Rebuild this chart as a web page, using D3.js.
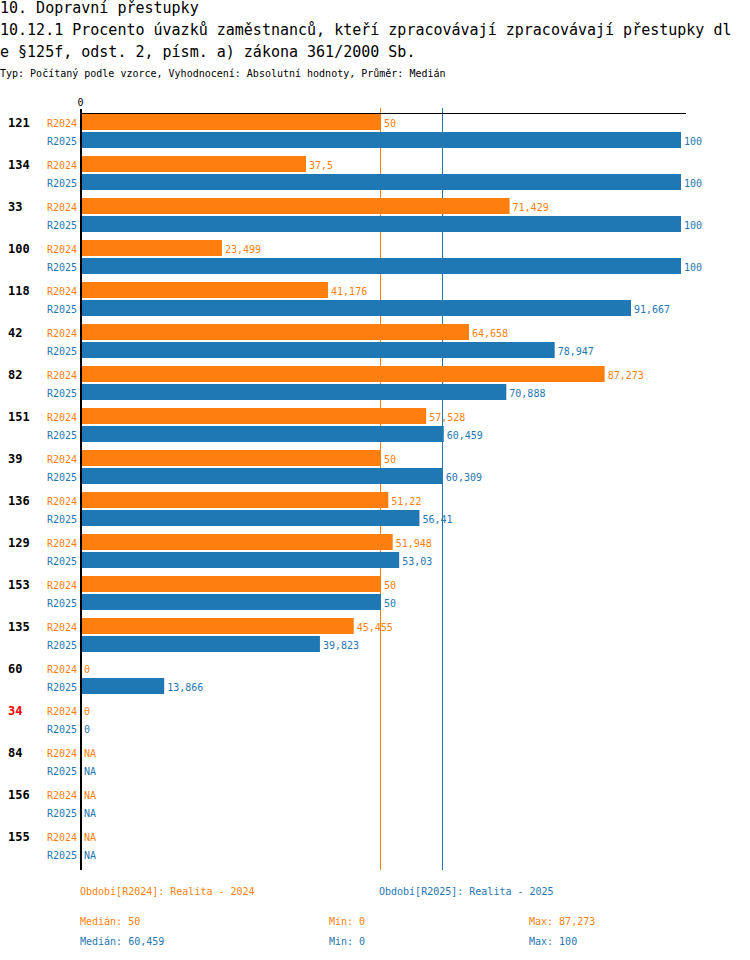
<!DOCTYPE html>
<html>
<head>
<meta charset="utf-8">
<script src="https://cdn.jsdelivr.net/npm/d3@7"></script>
<style>
  body { margin: 0; background: #fff; }
  text { font-family: "DejaVu Sans Mono", "Liberation Mono", monospace; }
</style>
</head>
<body>
<svg id="chart" width="750" height="960"></svg>
<script>
// data
var units = ["121", "134", "33", "100", "118", "42", "82", "151", "39", "136", "129", "153", "135", "60", "34", "84", "156", "155"];
var periods = ["R2024", "R2025"];
var periodNames = ["Realita - 2024", "Realita - 2025"];
var values2024 = [50, 37.5, 71.429, 23.499, 41.176, 64.658, 87.273, 57.528, 50, 51.22, 51.948, 50, 45.455, 0, 0, null, null, null];
var values2025 = [100, 100, 100, 100, 91.667, 78.947, 70.888, 60.459, 60.309, 56.41, 53.03, 50, 39.823, 13.866, 0, null, null, null];
var highlighted = ["34"];
var xTicks = [0];
var colors = ["#ff7f0e", "#1f77b4"];

var titleLines = [
  "10. Dopravní přestupky",
  "10.12.1 Procento úvazků zaměstnanců, kteří zpracovávají zpracovávají přestupky dl",
  "e §125f, odst. 2, písm. a) zákona 361/2000 Sb."
];
var subtitle = "Typ: Počítaný podle vzorce, Vyhodnocení: Absolutní hodnoty, Průměr: Medián";

var series = [values2024, values2025];
var rows = [];
units.forEach(function (u, i) {
  periods.forEach(function (p, j) {
    rows.push({unit: u, period: p, idx: j, value: series[j][i]});
  });
});

function fmt(v) {
  return v == null ? "NA" : String(v).replace(".", ",");
}

var svg = d3.select("#chart");

var x = d3.scaleLinear().domain([0, 100]).range([81, 681]);
var y0 = d3.scaleBand().domain(units).range([114, 870]);
var y1 = d3.scaleBand().domain(periods).range([0, 34]).paddingInner(2 - 34 / 18);

// header
svg.selectAll("text.title").data(titleLines).enter().append("text")
  .attr("class", "title")
  .attr("x", 0)
  .attr("y", function (d, i) { return 13 + i * 22; })
  .style("font-size", "15px")
  .attr("fill", "#000")
  .text(function (d) { return d; });

svg.append("text")
  .attr("x", 0).attr("y", 77)
  .style("font-size", "10px")
  .attr("fill", "#000")
  .text(subtitle);

// medians (drawn under bars)
var medians = series.map(function (s) { return d3.median(s.filter(function (v) { return v != null; })); });
svg.selectAll("line.median").data(medians).enter().append("line")
  .attr("class", "median")
  .attr("x1", function (d) { return Math.floor(x(d)) - 0.5; })
  .attr("x2", function (d) { return Math.floor(x(d)) - 0.5; })
  .attr("y1", 108).attr("y2", y0.range()[1])
  .attr("stroke", function (d, i) { return colors[i]; })
  .attr("stroke-width", 1);

// bars
var g = svg.append("g");
g.selectAll("rect").data(rows.filter(function (d) { return d.value; })).enter().append("rect")
  .attr("x", x(0))
  .attr("y", function (d) { return y0(d.unit) + y1(d.period); })
  .attr("width", function (d) { return x(d.value) - x(0); })
  .attr("height", y1.bandwidth())
  .attr("fill", function (d) { return colors[d.idx]; });

// value labels
g.selectAll("text.val").data(rows).enter().append("text")
  .attr("class", "val")
  .attr("x", function (d) { return Math.max(x(d.value || 0) + 3, x(0) + 3); })
  .attr("y", function (d) { return y0(d.unit) + y1(d.period) + y1.bandwidth() / 2; })
  .attr("dy", "0.45em")
  .style("font-size", "10px")
  .attr("fill", function (d) { return colors[d.idx]; })
  .text(function (d) { return fmt(d.value); });

// period labels
g.selectAll("text.per").data(rows).enter().append("text")
  .attr("class", "per")
  .attr("x", 77)
  .attr("y", function (d) { return y0(d.unit) + y1(d.period) + y1.bandwidth() / 2; })
  .attr("dy", "0.45em")
  .attr("text-anchor", "end")
  .style("font-size", "10px")
  .attr("fill", function (d) { return colors[d.idx]; })
  .text(function (d) { return d.period; });

// unit labels
g.selectAll("text.unit").data(units).enter().append("text")
  .attr("class", "unit")
  .attr("x", 8)
  .attr("y", function (d) { return y0(d) + y1(periods[0]) + y1.bandwidth() / 2; })
  .attr("dy", "0.45em")
  .style("font-size", "12px")
  .style("font-weight", "bold")
  .attr("fill", function (d) { return highlighted.indexOf(d) >= 0 ? "#ff0000" : "#000"; })
  .text(function (d) { return d; });

// axes
var axis = svg.append("g")
  .attr("transform", "translate(0,114)")
  .call(d3.axisTop(x).tickValues(xTicks).tickSize(5).tickPadding(3).tickSizeOuter(0));
axis.select(".domain").remove();
axis.selectAll("text").style("font-size", "10px").style("font-family", '"DejaVu Sans Mono", monospace').attr("x", -1);
axis.selectAll(".tick line").attr("stroke", "#000");

svg.append("line")
  .attr("x1", x(0)).attr("x2", x(100) + 5)
  .attr("y1", 113.5).attr("y2", 113.5)
  .attr("stroke", "#000");
svg.append("line")
  .attr("x1", x(0)).attr("x2", x(0))
  .attr("y1", 109).attr("y2", y0.range()[1])
  .attr("stroke", "#000").attr("stroke-width", 2);

// legend
var legX = [80, 379];
svg.selectAll("text.leg").data(periods).enter().append("text")
  .attr("class", "leg")
  .attr("x", function (d, i) { return legX[i]; })
  .attr("y", 895)
  .style("font-size", "10px")
  .attr("fill", function (d, i) { return colors[i]; })
  .text(function (d, i) { return "Období[" + d + "]: " + periodNames[i]; });

var statCols = [80, 329, 529];
series.forEach(function (s, i) {
  var vals = s.filter(function (v) { return v != null; });
  var stats = ["Medián: " + fmt(d3.median(vals)), "Min: " + fmt(d3.min(vals)), "Max: " + fmt(d3.max(vals))];
  svg.selectAll("text.stat" + i).data(stats).enter().append("text")
    .attr("class", "stat" + i)
    .attr("x", function (d, k) { return statCols[k]; })
    .attr("y", 925 + i * 20)
    .style("font-size", "10px")
    .attr("fill", colors[i])
    .text(function (d) { return d; });
});
</script>
</body>
</html>
